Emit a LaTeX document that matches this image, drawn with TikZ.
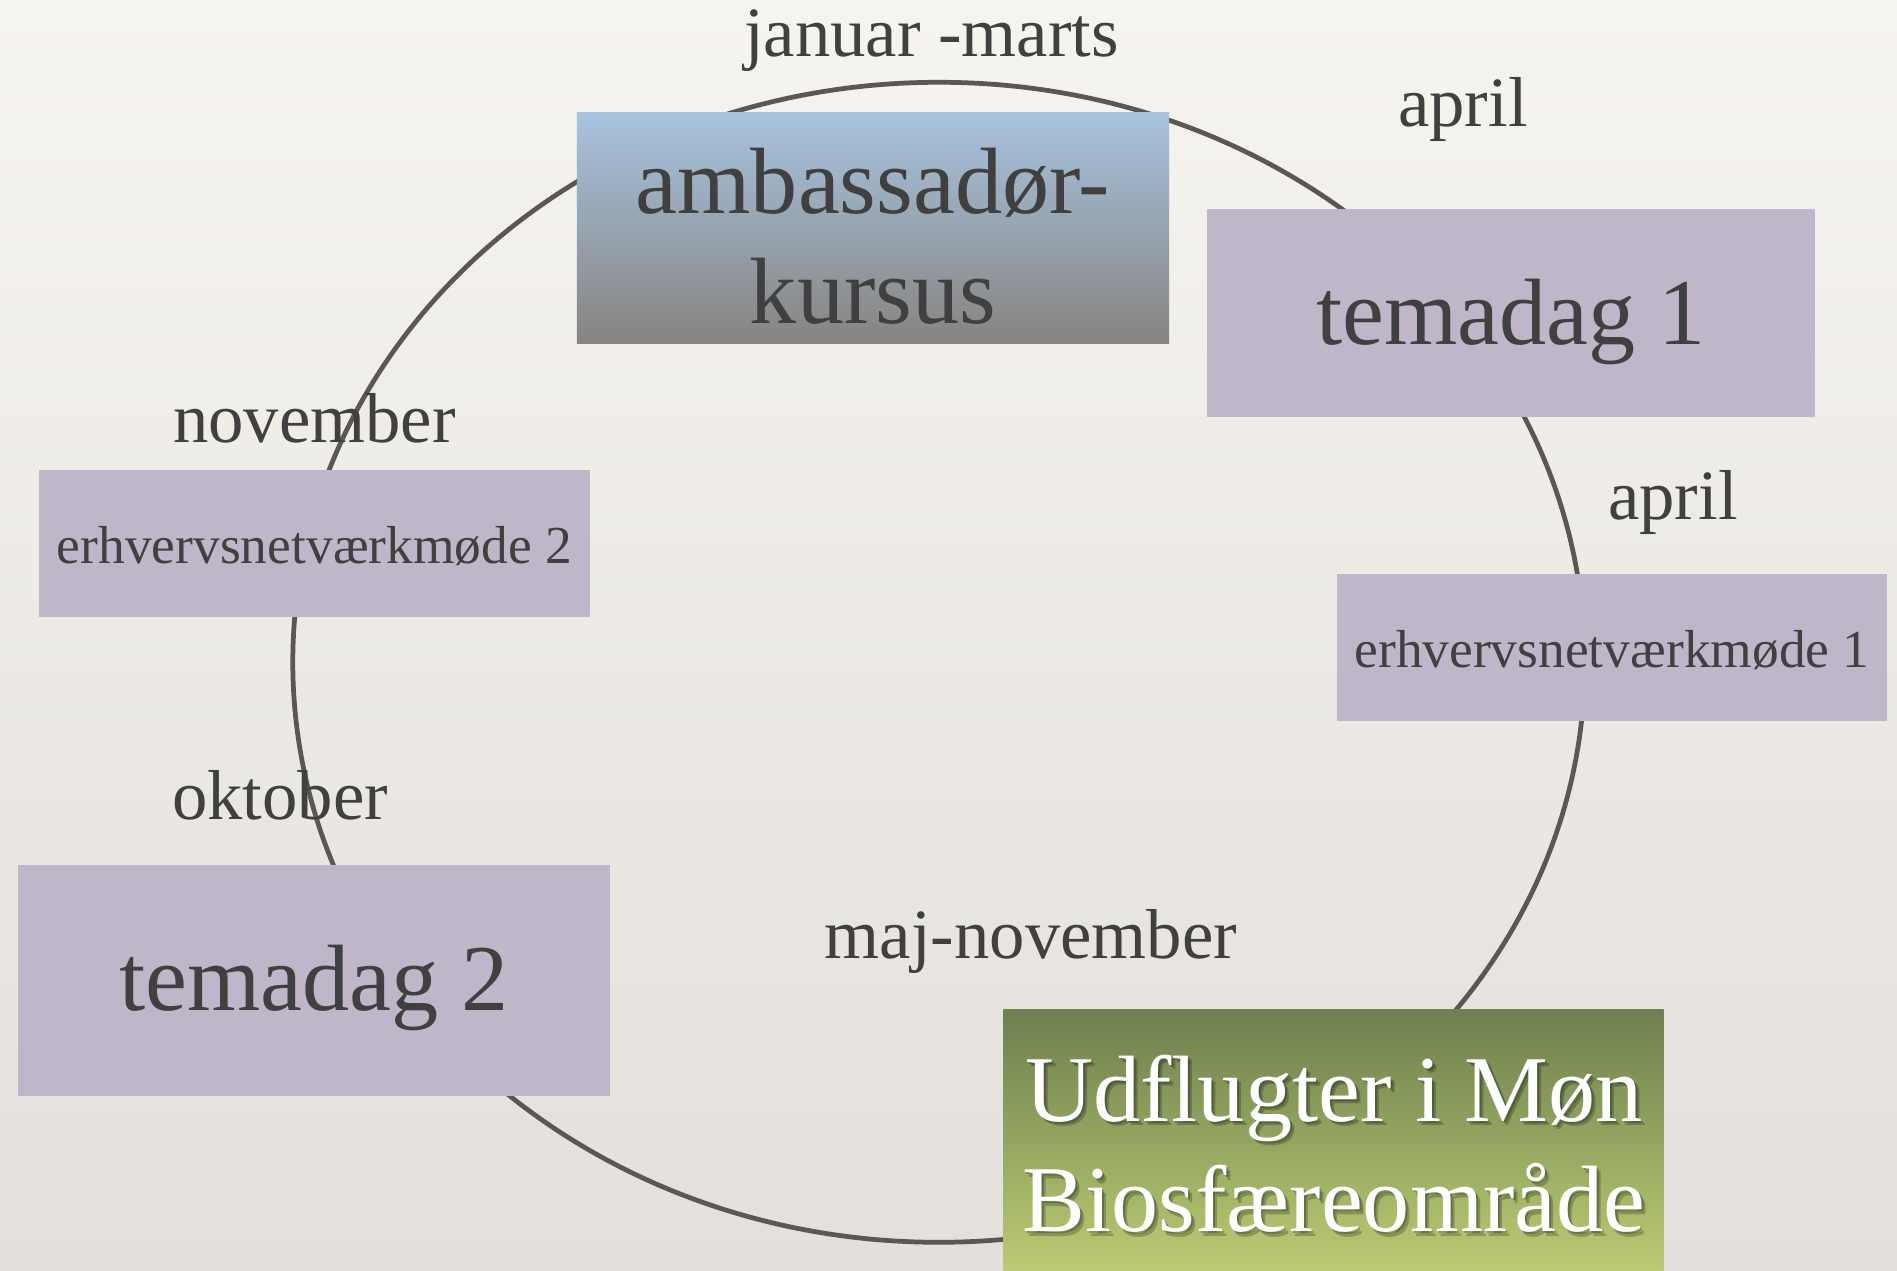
\documentclass[tikz,border=0pt]{standalone}
\usepackage{fontspec}
\setmainfont{Liberation Serif}
\definecolor{bgtop}{HTML}{F6F4EF}
\definecolor{bgbot}{HTML}{E3E0DB}
\definecolor{lav}{HTML}{BFB6C9}
\definecolor{ambtop}{HTML}{A7C3DF}
\definecolor{ambbot}{HTML}{878481}
\definecolor{grtop}{HTML}{6D804F}
\definecolor{grbot}{HTML}{BCCB73}
\definecolor{ringc}{HTML}{5B5754}
\definecolor{txtc}{HTML}{404040}
\tikzset{
  box/.style={rectangle, draw=none, inner sep=0pt},
  bigtxt/.style={anchor=base, inner sep=0pt, text=txtc, font=\fontsize{26.8}{32}\selectfont},
  smalltxt/.style={anchor=base, inner sep=0pt, text=txtc, font=\fontsize{15.2}{18}\selectfont},
  lbl/.style={anchor=base, inner sep=0pt, text=txtc, font=\fontsize{20.1}{24}\selectfont},
  whitetxt/.style={anchor=base, inner sep=0pt, text=white, font=\fontsize{26.8}{32}\selectfont},
  shadowtxt/.style={anchor=base, inner sep=0pt, text=black, opacity=0.22, font=\fontsize{26.8}{32}\selectfont},
  ring/.style={draw=ringc, line width=1.35pt}
}
\begin{document}
\begin{tikzpicture}[x=0.01cm, y=-0.01cm]
\useasboundingbox (0,0) rectangle (1897,1271);
\fill[top color=bgtop, bottom color=bgbot] (0,0) rectangle (1897,1271);
\draw[ring] (938.8,662.3) ellipse [x radius=646, y radius=580];

\node[box, top color=ambtop, bottom color=ambbot, minimum width=5.92cm, minimum height=2.30cm] (amb) at (873,228) {};
\node[box, fill=lav, minimum width=6.08cm, minimum height=2.08cm] (tem1) at (1511,313) {};
\node[box, fill=lav, minimum width=5.50cm, minimum height=1.46cm] (erhv1) at (1612,647.5) {};
\node[box, fill=lav, minimum width=5.51cm, minimum height=1.465cm] (erhv2) at (314.5,543.5) {};
\node[box, fill=lav, minimum width=5.92cm, minimum height=2.31cm] (tem2) at (314,980.5) {};
\node[box, top color=grtop, bottom color=grbot, minimum width=6.60cm, minimum height=2.61cm] (udf) at (1333.5,1140.5) {};

\node[bigtxt] (ambA) at (873,214) {ambassadør-};
\node[bigtxt] (ambB) at (873,324) {kursus};
\node[bigtxt] (tem1t) at (1511,345) {temadag 1};
\node[smalltxt] (erhv1t) at (1612,668) {erhvervsnetværkmøde 1};
\node[smalltxt] (erhv2t) at (314.5,564) {erhvervsnetværkmøde 2};
\node[bigtxt] (tem2t) at (314,1011) {temadag 2};

\node[shadowtxt] (udfAs) at (1338,1126) {Udflugter i Møn};
\node[shadowtxt] (udfBs) at (1338,1236) {Biosfæreområde};
\node[shadowtxt] (udfAs2) at (1336,1124) {Udflugter i Møn};
\node[shadowtxt] (udfBs2) at (1336,1234) {Biosfæreområde};
\node[whitetxt] (udfA) at (1334,1121.5) {Udflugter i Møn};
\node[whitetxt] (udfB) at (1334,1231.5) {Biosfæreområde};

\node[lbl] (l1) at (931.5,57) {januar -marts};
\node[lbl] (l2) at (1463,127) {april};
\node[lbl] (l3) at (1673,520) {april};
\node[lbl] (l4) at (314.5,443) {november};
\node[lbl] (l5) at (280,820) {oktober};
\node[lbl] (l6) at (1031,959) {maj-november};
\end{tikzpicture}
\end{document}
